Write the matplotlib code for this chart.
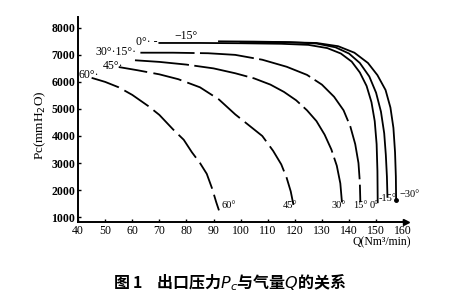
import matplotlib
matplotlib.use("Agg")
import matplotlib.pyplot as plt

# Curves: Q (Nm3/min) vs Pc (mmH2O) for each angle
q_60 = [45, 50, 55, 60, 66, 70, 75, 79, 82, 85, 87.5, 89.5, 91, 92]
p_60 = [6150, 6000, 5800, 5520, 5100, 4780, 4250, 3860, 3400, 3000, 2600, 2050, 1550, 1250]

q_45 = [55, 62, 70, 77, 85, 92, 98, 103, 108, 112, 115, 117, 118.5, 119.5]
p_45 = [6550, 6430, 6280, 6100, 5800, 5350, 4800, 4400, 4000, 3450, 2950, 2450, 1950, 1450]

q_30 = [61, 70, 80, 90, 98, 105, 111, 116, 120.5, 124.5, 128, 131, 133.5, 135.5, 136.8, 137.4]
p_30 = [6800, 6740, 6640, 6500, 6320, 6130, 5900, 5630, 5320, 4950, 4550, 4050, 3500, 2900, 2250, 1550]

q_15 = [63, 75, 88, 98, 108, 117, 124.5, 130, 134.5, 138, 140.5, 142.3, 143.5, 144, 144.2]
p_15 = [7080, 7080, 7060, 7000, 6820, 6560, 6260, 5900, 5450, 4950, 4350, 3700, 3000, 2300, 1550]

q_0 = [70, 85, 100, 115, 125, 132, 137, 141, 144, 146.5, 148.3, 149.5, 150.2, 150.5, 150.6]
p_0 = [7440, 7440, 7430, 7410, 7370, 7250, 7050, 6750, 6350, 5850, 5250, 4550, 3700, 2700, 1550]

q_m15 = [92, 105, 118, 128, 135, 140, 144, 147.5, 150, 151.8, 153, 153.6, 154, 154.2]
p_m15 = [7500, 7490, 7470, 7420, 7280, 7050, 6700, 6200, 5600, 4900, 4100, 3300, 2500, 1750]

q_m30 = [100, 115, 128, 136, 142, 147, 150.5, 153.5, 155.3, 156.4, 157, 157.3, 157.4]
p_m30 = [7480, 7470, 7440, 7320, 7080, 6700, 6250, 5700, 5050, 4300, 3400, 2500, 1650]

x_ticks = [40, 50, 60, 70, 80, 90, 100, 110, 120, 130, 140, 150, 160]
y_ticks = [1000, 2000, 3000, 4000, 5000, 6000, 7000, 8000]

serif = "Liberation Serif"

fig = plt.figure(figsize=(4.54, 3.01), dpi=100)
ax = fig.add_axes([0.172, 0.2625, 0.722, 0.681])

lw = 1.3
ax.plot(q_60, p_60, color="black", lw=lw, dashes=(16, 3.5))
ax.plot(q_45, p_45, color="black", lw=lw, dashes=(16, 3.5))
ax.plot(q_30, p_30, color="black", lw=lw, dashes=(30, 3))
ax.plot(q_15, p_15, color="black", lw=lw, dashes=(30, 3))
ax.plot(q_0, p_0, color="black", lw=lw)
ax.plot(q_m15, p_m15, color="black", lw=lw)
ax.plot(q_m30, p_m30, color="black", lw=lw)
ax.plot(q_m30[-1], p_m30[-1], "o", color="black", ms=2.5)

ax.set_xlim(40, 161)
ax.set_ylim(820, 8400)
ax.set_xticks(x_ticks)
ax.set_yticks(y_ticks)
ax.spines["top"].set_visible(False)
ax.spines["right"].set_visible(False)
ax.spines["left"].set_linewidth(1.4)
ax.spines["bottom"].set_linewidth(1.4)
ax.tick_params(direction="in", length=2, width=1, pad=2)
for lab in ax.get_xticklabels() + ax.get_yticklabels():
    lab.set_fontfamily(serif)
    lab.set_fontsize(8.5)
for lab in ax.get_yticklabels():
    lab.set_fontweight("bold")
ax.plot(1, 0, ">", color="black", ms=4, transform=ax.transAxes, clip_on=False)

# angle labels, top left
kw = dict(fontfamily=serif, fontsize=8.5, va="center", ha="left")
ax.text(40.3, 6250, "60°·", **kw)
ax.text(49.0, 6600, "45°·", **kw)
ax.text(46.3, 7120, "30°·15°·", **kw)
ax.text(61.5, 7460, "0°· -", **kw)
ax.text(75.5, 7690, "−15°", **kw)

# angle labels, bottom
kb = dict(fontfamily=serif, fontsize=7.5, va="center", ha="left")
ax.text(92.8, 1430, "60°", **kb)
ax.text(115.6, 1430, "45°", **kb)
ax.text(133.6, 1430, "30°", **kb)
ax.text(141.4, 1430, "15°", **kb)
ax.text(147.6, 1430, "0°", **kb)
ax.text(150.9, 1680, "-15°", **kb)
ax.text(158.6, 1850, "−30°", **kb)

fig.text(0.088, 0.585, "Pc(mmH$_2$O)", rotation=90, fontfamily=serif,
         fontsize=9.5, ha="center", va="center")
fig.text(0.905, 0.195, "Q(Nm³/min)", fontfamily=serif, fontsize=8.5,
         ha="right", va="center")

fig.text(0.505, 0.06, "图 1    出口压力$P_c$与气量$Q$的关系",
         fontfamily="Noto Sans CJK SC", fontsize=11.5, fontweight="bold",
         ha="center", va="center")

fig.savefig("out.png", dpi=100)
